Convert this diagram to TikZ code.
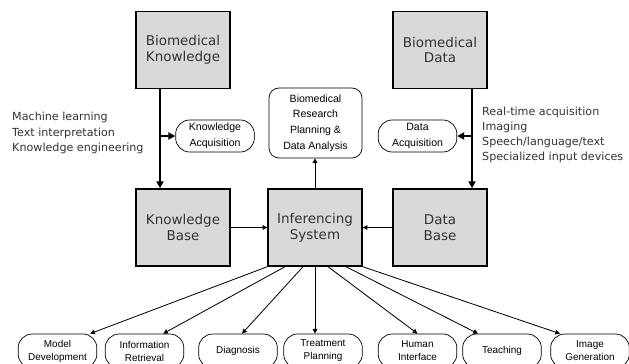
\documentclass[tikz,border=0pt]{standalone}
\usepackage{fontspec}
\setmainfont{DejaVu Sans}
\newfontfamily\helv{Liberation Sans}
\usetikzlibrary{arrows.meta}

\begin{document}
\begin{tikzpicture}[x = 0.03cm, y = -0.03cm,
		bigbox/.style = {draw, line width = 1.2pt, fill = black!15, text = black!80, minimum width = 2.82cm, minimum height = 2.31cm, inner sep = 0, align = center, font = \fontsize{11.5}{13.6}\selectfont},
		pill/.style = {draw, line width = 0.6pt, rounded corners = 0.42cm, minimum width = 2.36cm, minimum height = 0.96cm, inner sep = 0, align = center, font = \helv\fontsize{9}{13.4}\selectfont},
		outbox/.style = {pill, minimum height = 1.02cm, font = \helv\fontsize{8.5}{11}\selectfont},
		heavy/.style = {line width = 1.5pt, -{Triangle[length = 6pt, width = 6pt]}},
		thin/.style = {line width = 0.7pt, -{Triangle[length = 4pt, width = 4pt]}},
		note/.style = {align = left, inner sep = 0, font = \fontsize{9.5}{12.9}\selectfont, text = black!80}]
	\clip (0, 0) rectangle (629, 363);

	\node [bigbox] (bk) at (183, 50) {Biomedical\\Knowledge};
	\node [bigbox] (bd) at (440, 50) {Biomedical\\Data};
	\node [bigbox] (kb) at (183, 227.5) {Knowledge\\Base};
	\node [bigbox] (is) at (315, 227.5) {Inferencing\\System};
	\node [bigbox] (db) at (440, 227.5) {Data\\Base};

	\node [pill, minimum width = 2.79cm, minimum height = 2.1cm, rounded corners = 0.3cm] (res) at (315.5, 123) {Biomedical\\Research\\Planning \&\\Data Analysis};
	\node [pill] (ka) at (215, 136) {Knowledge\\Acquisition};
	\node [pill] (da) at (417.5, 136) {Data\\Acquisition};

	\node [note, anchor = west] (ml) at (12, 133) {Machine learning\\Text interpretation\\Knowledge engineering};
	\node [note, anchor = west] (rt) at (482, 135) {Real-time acquisition\\Imaging\\Speech/language/text\\Specialized input devices};

	\node [outbox] (md) at (57.5, 351) {Model\\Development};
	\node [outbox] (ir) at (144.5, 351) {Information\\Retrieval};
	\node [outbox] (dx) at (238, 351) {Diagnosis};
	\node [outbox] (tp) at (323, 351) {Treatment\\Planning};
	\node [outbox] (hi) at (417.5, 351) {Human\\Interface};
	\node [outbox] (tc) at (502, 351) {Teaching};
	\node [outbox] (ig) at (590, 351) {Image\\Generation};

	\draw [heavy] ([xshift = -0.69cm] bk.south) to ([xshift = -0.69cm] kb.north);
	\draw [heavy] ([xshift = 0.96cm] bd.south) to ([xshift = 0.96cm] db.north);
	\draw [heavy] ([xshift = -0.69cm] bk.south |- ka.west) to (ka.west);
	\draw [heavy] ([xshift = 0.96cm] bd.south |- da.east) to (da.east);

	\draw [thin] (kb.east) to (is.west);
	\draw [thin] (db.west) to (is.east);
	\draw [thin] (is.north) to (is.north |- res.south);

	\draw [thin] (is.south west) to ([xshift = 0.98cm] md.north);
	\draw [thin] ([xshift = -0.9cm] is.south) to ([xshift = 0.56cm] ir.north);
	\draw [thin] ([xshift = -0.36cm] is.south) to ([xshift = 0.12cm] dx.north);
	\draw [thin] (is.south) to (is.south |- tp.north);
	\draw [thin] ([xshift = 0.39cm] is.south) to (hi.north);
	\draw [thin] ([xshift = 0.93cm] is.south) to ([xshift = -0.72cm] tc.north);
	\draw [thin] (is.south east) to ([xshift = -0.9cm] ig.north);
\end{tikzpicture}
\end{document}
